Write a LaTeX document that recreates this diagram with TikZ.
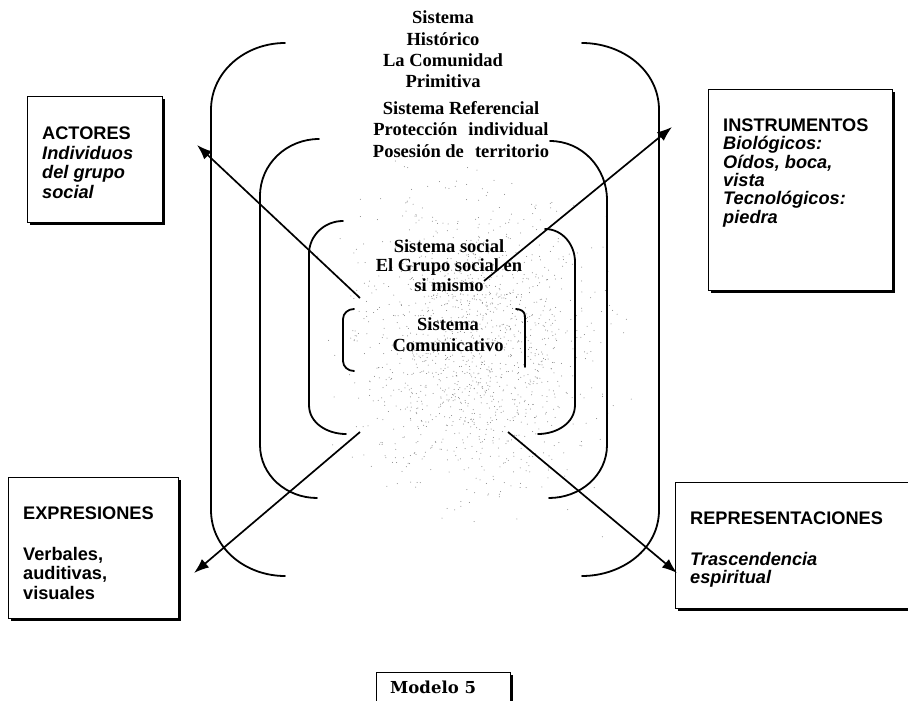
\documentclass[tikz,border=0pt]{standalone}
\usepackage{fontspec}
\setmainfont{Liberation Serif}
\newfontfamily\labelfont{Liberation Sans}
\newfontfamily\captionfont{DejaVu Serif}
\usetikzlibrary{arrows.meta,shadows}
\begin{document}
\begin{tikzpicture}[x=1pt,y=-1pt,
  bracket/.style={line width=1.8pt, line cap=round},
  link/.style={line width=1.7pt, -{Latex[length=15pt,width=11pt]}},
  panel/.style={draw, line width=1.3pt, fill=white, inner sep=0pt, anchor=north west,
    drop shadow={shadow xshift=2.2pt, shadow yshift=-2.2pt, fill=black, opacity=1}},
  paneltext/.style={font=\labelfont\bfseries\fontsize{18.2}{19.5}\selectfont,
    align=left, anchor=base west, inner sep=0pt},
  systext/.style={font=\bfseries\fontsize{18.5}{21.5}\selectfont,
    align=center, anchor=base, inner sep=0pt},
]
\useasboundingbox (0,0) rectangle (908,701);

% grainy grey stippling around the communicative core
\pgfmathsetseed{7}
\foreach \k in {1,...,1400}{
  \pgfmathsetmacro\px{475+58*(rand+rand+rand)}
  \pgfmathsetmacro\py{345+70*(rand+rand+rand)}
  \fill[black!50] (\px,\py) circle (0.5);
}

% outer pair: historical system
\draw[bracket] (285,43) to[out=180,in=90] (211,110) -- (211,510) to[out=-90,in=180] (285,576);
\draw[bracket] (582,43) to[out=0,in=90] (659,110) -- (659,510) to[out=-90,in=0] (582,576);
% referential system
\draw[bracket] (319,139) to[out=180,in=90] (260,196) -- (260,445) to[out=-90,in=180] (317,498);
\draw[bracket] (550,141) to[out=0,in=90] (607,200) -- (607,445) to[out=-90,in=0] (549,498);
% social system
\draw[bracket] (343,221) to[out=180,in=90] (309,254) -- (309,405) to[out=-90,in=180] (346,434);
\draw[bracket] (545,229) to[out=0,in=90] (575,262) -- (575,405) to[out=-90,in=0] (538,434);
% communicative core
\draw[bracket] (354,309) to[out=180,in=90] (343,319) -- (343,361) to[out=-90,in=180] (354,371);
\draw[bracket] (516,309) to[out=0,in=90] (525,316) -- (525,367);

% system labels (anchored at the baseline of their last line)
\node[systext] (historico) at (443,88) {Sistema\\Histórico\\La Comunidad\\Primitiva};
\node[systext] (referencial) at (461,157) {Sistema Referencial\\Protección\hspace{0.35em} individual\\Posesión de\hspace{0.35em} territorio};
\node[systext, font=\bfseries\fontsize{18.5}{19.5}\selectfont] (social) at (449,291) {Sistema social\\El Grupo social en\\si mismo};
\node[systext, font=\bfseries\fontsize{18.5}{21}\selectfont] (comunicativo) at (448,351) {Sistema\\Comunicativo};

% outer panels
\node[panel, minimum width=135, minimum height=126] (actores) at (27,96) {};
\node[panel, minimum width=184, minimum height=201] (instrumentos) at (708,89) {};
\node[panel, minimum width=170, minimum height=141] (expresiones) at (8,477) {};
\node[panel, minimum width=240, minimum height=126] (representaciones) at (675,482) {};
\node[panel, minimum width=134, minimum height=40] (modelo) at (376,672) {};

\node[paneltext] (actorestxt) at (42,198) {ACTORES\\\itshape Individuos\\\itshape del grupo\\\itshape social};
\node[paneltext, font=\labelfont\bfseries\fontsize{18.2}{18.3}\selectfont] (instrtxt) at (723,223)
  {INSTRUMENTOS\\\itshape Biológicos:\\\itshape Oídos, boca,\\\itshape vista\\\itshape Tecnológicos:\\\itshape piedra};
\node[paneltext] (exprtxt) at (23,599) {EXPRESIONES\\[21.5pt]Verbales,\\auditivas,\\visuales};
\node[paneltext, font=\labelfont\bfseries\fontsize{18.2}{18}\selectfont] (reprtxt) at (690,583)
  {REPRESENTACIONES\\[23pt]\itshape Trascendencia\\\itshape espiritual};
\node[anchor=base west, inner sep=0pt, font=\captionfont\bfseries\fontsize{16.5}{19}\selectfont] (modelotxt) at (390,693) {Modelo 5};

% connectors from the core outwards
\coordinate (srcA) at (360,298);
\coordinate (srcI) at (484,281);
\coordinate (srcE) at (360,432);
\coordinate (srcR) at (508,432);
\coordinate (tipA) at (197,145);
\coordinate (tipI) at (672,127);
\coordinate (tipE) at (194,573);
\coordinate (tipR) at (677,573);
\draw[link] (srcA) -- (tipA);
\draw[link] (srcI) -- (tipI);
\draw[link] (srcE) -- (tipE);
\draw[link] (srcR) -- (tipR);
\end{tikzpicture}
\end{document}
